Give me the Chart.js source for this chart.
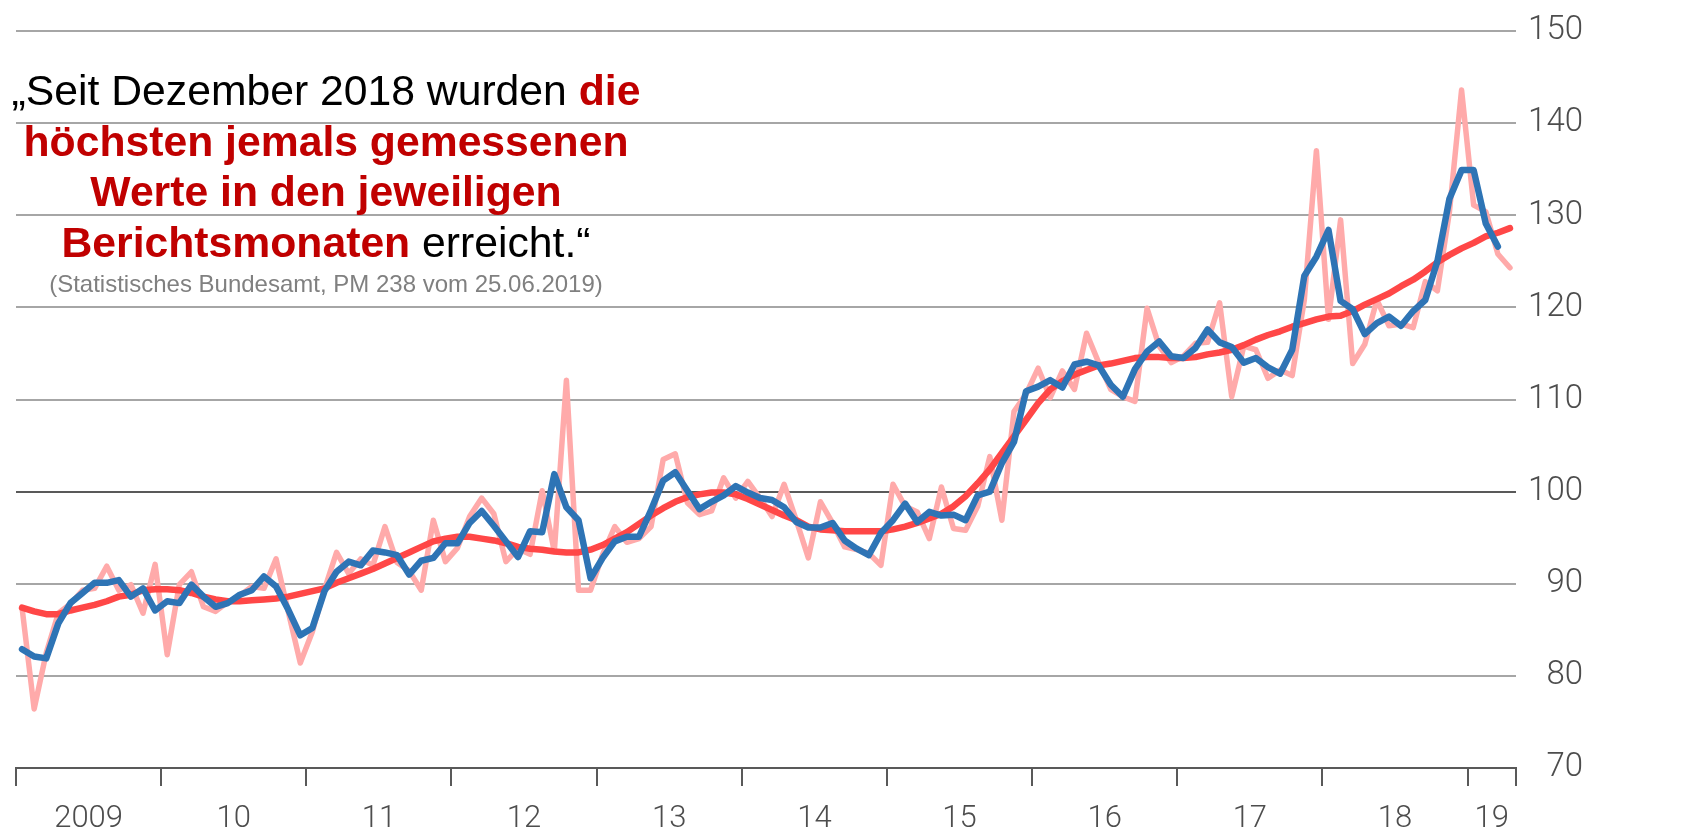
<!DOCTYPE html>
<html><head><meta charset="utf-8">
<script src="https://cdn.jsdelivr.net/npm/chart.js@4/dist/chart.umd.min.js"></script>
<style>
html,body{margin:0;padding:0;background:#fff;}
#wrap{position:relative;width:1698px;height:830px;overflow:hidden;background:#fff;}
#c{position:absolute;left:0;top:0;}
.quote{position:absolute;left:0;width:652px;text-align:center;font-family:"Liberation Sans",Arial,sans-serif;white-space:nowrap;}
.q{font-size:42.7px;line-height:50.5px;color:#000;}
.r{color:#c00000;font-weight:bold;}
.src{font-size:24px;line-height:28px;color:#808080;}
</style></head><body>
<div id="wrap">
<canvas id="c" width="1698" height="830"></canvas>
<div class="quote q" style="top:65px">„Seit Dezember 2018 wurden <span class="r">die</span></div>
<div class="quote q r" style="top:115.5px">höchsten jemals gemessenen</div>
<div class="quote q r" style="top:166px">Werte in den jeweiligen</div>
<div class="quote q" style="top:216.5px"><span class="r">Berichtsmonaten</span> erreicht.“</div>
<div class="quote src" style="top:269.5px">(Statistisches Bundesamt, PM 238 vom 25.06.2019)</div>
</div>
<script>
// Monthly values, Jan 2009 .. Apr 2019 (index 0 = Jan 2009)
const monthly = [
 87.4, 76.4, 82.5, 86.8, 87.8, 89.3, 89.5, 91.9, 89.3, 89.9,
 86.8, 92.1, 82.3, 89.9, 91.3, 87.5, 87.0, 88.0, 88.7, 89.7,
 89.5, 92.7, 87.0, 81.4, 84.8, 89.4, 93.4, 91.1, 92.7, 92.0,
 96.2, 92.3, 91.4, 89.3, 96.9, 92.4, 93.9, 97.3, 99.3, 97.6,
 92.4, 93.8, 93.2, 100.1, 93.5, 112.1, 89.3, 89.3, 93.2, 96.2,
 94.5, 94.9, 96.2, 103.5, 104.1, 98.8, 97.5, 97.9, 101.5, 99.3,
 101.1, 99.3, 97.3, 100.8, 96.9, 92.8, 98.9, 96.6, 94.0, 93.7,
 93.3, 92.0, 100.8, 98.4, 97.8, 94.9, 100.5, 96.0, 95.8, 98.4,
 103.8, 96.9, 108.7, 110.6, 113.4, 110.2, 113.1, 111.1, 117.2, 114.0,
 111.1, 110.3, 109.8, 119.9, 115.8, 114.0, 114.7, 116.1, 116.2, 120.5,
 110.3, 115.8, 115.4, 112.3, 113.2, 112.6, 120.8, 137.0, 118.7, 129.5,
 113.9, 116.0, 120.8, 118.0, 118.2, 117.8, 122.8, 121.8, 130.4, 143.6,
 131.1, 130.4, 125.8, 124.3
];
// 3-month average (ends one month earlier)
const avg3 = [
 82.9, 82.1, 81.9, 85.7, 87.9, 89.0, 90.1, 90.1, 90.4, 88.6,
 89.5, 87.1, 88.1, 87.9, 89.9, 88.6, 87.5, 87.9, 88.8, 89.3,
 90.8, 89.7, 87.2, 84.4, 85.2, 89.2, 91.3, 92.4, 92.0, 93.6,
 93.4, 93.1, 91.0, 92.5, 92.8, 94.4, 94.4, 96.6, 97.9, 96.3,
 94.6, 92.9, 95.7, 95.6, 101.9, 98.3, 96.9, 90.6, 92.8, 94.6,
 95.1, 95.1, 98.0, 101.2, 102.1, 100.1, 98.1, 98.9, 99.6, 100.6,
 99.9, 99.3, 99.1, 98.3, 96.7, 96.1, 96.1, 96.6, 94.7, 93.8,
 93.1, 95.5, 96.9, 98.7, 96.7, 97.8, 97.4, 97.5, 96.9, 99.6,
 100.0, 103.1, 105.4, 110.9, 111.4, 112.1, 111.3, 113.8, 114.1, 113.7,
 111.6, 110.3, 113.3, 115.2, 116.3, 114.7, 114.5, 115.6, 117.6, 116.2,
 115.7, 114.0, 114.5, 113.5, 112.8, 115.4, 123.4, 125.5, 128.4, 120.7,
 119.8, 117.1, 118.3, 119.0, 118.0, 119.6, 120.8, 125.0, 131.8, 134.9,
 134.9, 129.1, 126.6
];
// Trend
const trend = [
 87.4, 87.0, 86.7, 86.7, 87.1, 87.4, 87.7, 88.1, 88.6, 88.8,
 89.3, 89.4, 89.4, 89.3, 89.0, 88.6, 88.3, 88.1, 88.1, 88.2,
 88.3, 88.4, 88.6, 88.9, 89.2, 89.5, 90.1, 90.6, 91.1, 91.6,
 92.2, 92.8, 93.4, 94.0, 94.6, 94.9, 95.1, 95.1, 94.9, 94.7,
 94.4, 94.0, 93.8, 93.7, 93.5, 93.4, 93.4, 93.7, 94.2, 94.9,
 95.6, 96.5, 97.4, 98.2, 98.9, 99.4, 99.7, 99.9, 99.9, 99.7,
 99.2, 98.6, 98.0, 97.4, 96.9, 96.2, 95.9, 95.8, 95.7, 95.7,
 95.7, 95.7, 95.9, 96.2, 96.6, 97.1, 97.6, 98.4, 99.5, 100.9,
 102.4, 104.2, 106.0, 107.8, 109.6, 111.1, 112.0, 112.7, 113.2, 113.7,
 113.9, 114.2, 114.5, 114.6, 114.6, 114.5, 114.5, 114.6, 114.9, 115.1,
 115.4, 115.9, 116.5, 117.0, 117.4, 117.9, 118.3, 118.7, 119.0, 119.1,
 119.6, 120.3, 120.9, 121.5, 122.3, 123.0, 123.9, 124.9, 125.7, 126.4,
 127.0, 127.7, 128.1, 128.6
];
const yearLabels = ["2009","10","11","12","13","14","15","16","17","18","19"];
// year boundaries (month index) and label centres
const yearBounds = [-0.5, 11.5, 23.5, 35.5, 47.5, 59.5, 71.5, 83.5, 95.5, 107.5, 119.5, 123.5];
const yearMids   = [5.5, 17.5, 29.5, 41.5, 53.5, 65.5, 77.5, 89.5, 101.5, 113.5, 121.5];
const yTicks = [70, 80, 90, 100, 110, 120, 130, 140, 150];

const toPts = arr => arr.map((v, i) => ({x: i, y: v}));

new Chart(document.getElementById('c').getContext('2d'), {
  type: 'line',
  data: {
    datasets: [
      {label: 'Gleitender 3-Monats-Durchschnitt', data: toPts(avg3), borderColor: '#2e74b5', borderWidth: 6.5},
      {label: 'Trend', data: toPts(trend), borderColor: '#ff4747', borderWidth: 6.5},
      {label: 'Monatswerte', data: toPts(monthly), borderColor: '#ffaaaa', borderWidth: 5.5}
    ]
  },
  options: {
    responsive: false,
    animation: false,
    devicePixelRatio: 1,
    layout: {padding: {left: 16, top: 31, right: 115, bottom: 0}},
    plugins: {legend: {display: false}, tooltip: {enabled: false}},
    elements: {
      point: {radius: 0},
      line: {tension: 0, borderJoinStyle: 'round', borderCapStyle: 'round', fill: false}
    },
    scales: {
      x: {
        type: 'linear', position: 'bottom', weight: 0, min: -0.5, max: 123.5,
        afterBuildTicks: s => { s.ticks = yearBounds.map(v => ({value: v})); },
        afterFit: s => { s.height = 18; },
        ticks: {display: false},
        grid: {drawOnChartArea: false, drawTicks: true, tickLength: 18, color: '#595959', lineWidth: 2},
        border: {display: true, color: '#595959', width: 2}
      },
      xl: {
        type: 'linear', position: 'bottom', weight: 1, min: -0.5, max: 123.5,
        afterBuildTicks: s => { s.ticks = yearMids.map(v => ({value: v})); },
        afterFit: s => { s.height = 44; },
        ticks: {callback: (v, i) => yearLabels[i], font: {family: 'Roboto', size: 31, weight: 300},
                color: '#4d4d4d', padding: 7, maxRotation: 0, autoSkip: false},
        grid: {display: false},
        border: {display: false}
      },
      y: {
        type: 'linear', position: 'right', min: 70, max: 150,
        afterBuildTicks: s => { s.ticks = yTicks.map(v => ({value: v})); },
        afterFit: s => { s.width = 67; },
        ticks: {font: {family: 'Roboto', size: 33, weight: 300}, color: '#4d4d4d', padding: 11, crossAlign: 'far'},
        grid: {
          color: c => c.tick.value === 100 ? '#595959' : (c.tick.value === 70 ? 'rgba(0,0,0,0)' : '#a6a6a6'),
          lineWidth: 2, drawTicks: false
        },
        border: {display: false}
      }
    }
  }
});
</script>
</body></html>
